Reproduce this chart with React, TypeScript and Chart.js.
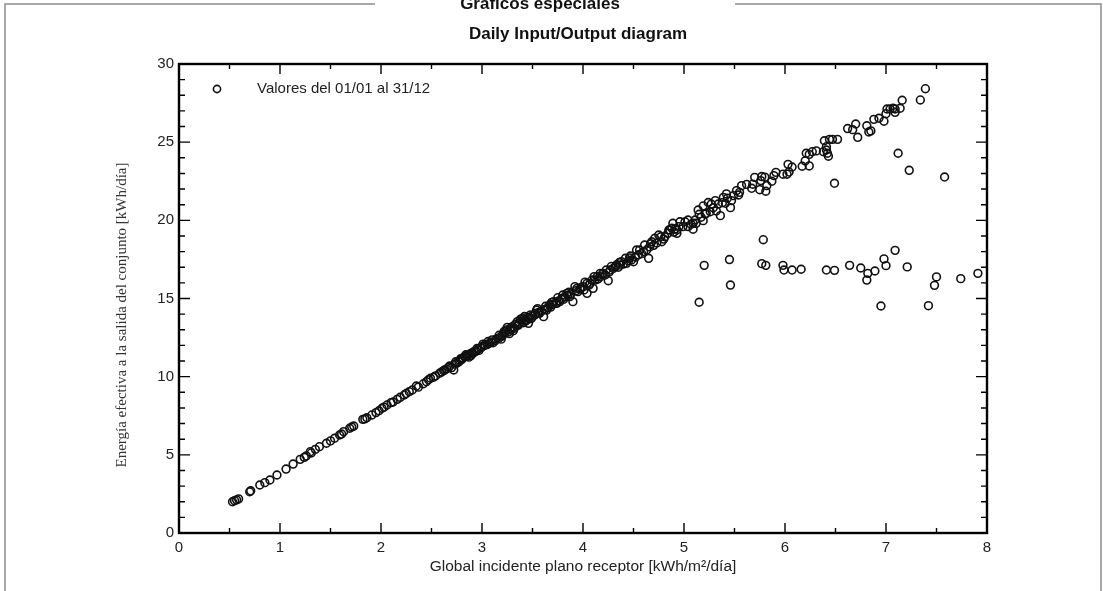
import React, { useEffect, useRef } from "react";
import { Chart, registerables } from "chart.js";

Chart.register(...registerables);

// ---------- text ----------
const pageTitle = "Gráficos especiales";
const chartTitle = "Daily Input/Output diagram";
const xAxisTitle = "Global incidente plano receptor [kWh/m²/día]";
const yAxisTitle = "Energía efectiva a la salida del conjunto [kWh/día]";
const legendLabel = "Valores del 01/01 al 31/12";

// ---------- axes ----------
const xRange = [0, 8];
const xMajorStep = 1;
const xMinorStep = 0.5;
const yRange = [0, 30];
const yMajorStep = 5;
const yMinorStep = 1;

// ---------- data: [global incident kWh/m²/day, effective energy kWh/day] ----------
const lowDays: [number, number][] = [
  [0.53, 2.0], [0.55, 2.07], [0.57, 2.12], [0.59, 2.18], [0.7, 2.64], [0.71, 2.7],
  [0.8, 3.07], [0.85, 3.22], [0.9, 3.39], [0.97, 3.71], [1.06, 4.09], [1.13, 4.41],
  [1.2, 4.71], [1.24, 4.84], [1.26, 4.93], [1.3, 5.2], [1.31, 5.12], [1.35, 5.35],
  [1.39, 5.52], [1.46, 5.74], [1.5, 5.89], [1.54, 6.06], [1.59, 6.27], [1.61, 6.33],
  [1.63, 6.48], [1.69, 6.7], [1.71, 6.78], [1.73, 6.84], [1.82, 7.27], [1.84, 7.3],
  [1.86, 7.37], [1.91, 7.55], [1.95, 7.7], [1.98, 7.82], [2.01, 7.98], [2.03, 8.05],
  [2.06, 8.19], [2.1, 8.34], [2.12, 8.38], [2.16, 8.55], [2.19, 8.68], [2.23, 8.83],
  [2.25, 8.92], [2.28, 9.04], [2.31, 9.15], [2.35, 9.4], [2.37, 9.33], [2.42, 9.55],
  [2.45, 9.68], [2.47, 9.8],
];

const midDays: [number, number][] = [
  [2.49, 9.9], [2.52, 9.96], [2.54, 10.05], [2.58, 10.22], [2.6, 10.3], [2.63, 10.43],
  [2.65, 10.5], [2.68, 10.68], [2.7, 10.58], [2.72, 10.43], [2.73, 10.8], [2.75, 10.86],
  [2.77, 10.95], [2.78, 11.02], [2.8, 11.11], [2.81, 11.2], [2.83, 11.28], [2.85, 11.3],
  [2.86, 11.38], [2.88, 11.45], [2.89, 11.35], [2.9, 11.52], [2.92, 11.6], [2.94, 11.62],
  [2.96, 11.75], [2.97, 11.68], [2.99, 11.85], [3.0, 11.92], [3.02, 11.98], [3.03, 12.03],
  [3.05, 12.05], [3.07, 12.13], [3.09, 12.2], [3.11, 12.17], [3.13, 12.3], [3.16, 12.45],
  [3.18, 12.52], [3.2, 12.6], [3.21, 12.73], [3.23, 12.8], [3.24, 12.99], [3.26, 12.85],
  [3.28, 13.09], [3.29, 13.0], [3.31, 12.94], [3.32, 13.1], [3.34, 13.24], [3.35, 13.52],
  [3.36, 13.3], [3.38, 13.67], [3.4, 13.73], [3.41, 13.45], [3.43, 13.55], [3.44, 13.62],
  [3.46, 13.41], [3.47, 13.7], [3.49, 13.73],
  [2.62, 10.38], [2.67, 10.6], [2.74, 10.95], [2.79, 11.15], [2.84, 11.4], [2.87, 11.25],
  [2.91, 11.48], [2.95, 11.8], [3.01, 12.08], [3.06, 12.25], [3.1, 12.35], [3.14, 12.4],
  [3.17, 12.65], [3.19, 12.4], [3.22, 12.9], [3.25, 13.15], [3.27, 12.75], [3.3, 13.2],
  [3.33, 13.35], [3.37, 13.4], [3.39, 13.55], [3.42, 13.85], [3.45, 13.8], [3.48, 13.95],
];

const highDays: [number, number][] = [
  [3.5, 13.9], [3.52, 13.94], [3.53, 14.05], [3.54, 14.26], [3.56, 14.1], [3.57, 14.05],
  [3.59, 14.2], [3.61, 13.84], [3.62, 14.3], [3.64, 14.26], [3.65, 14.4], [3.67, 14.58],
  [3.68, 14.45], [3.7, 14.62], [3.71, 14.8], [3.73, 14.7], [3.74, 14.69], [3.76, 14.85],
  [3.77, 14.8], [3.79, 15.0], [3.8, 15.22], [3.82, 15.1], [3.84, 15.33], [3.85, 15.2],
  [3.87, 15.12], [3.88, 15.3], [3.9, 14.8], [3.92, 15.76], [3.93, 15.5], [3.95, 15.44],
  [3.97, 15.6], [3.98, 15.7], [4.0, 15.76], [4.01, 15.55], [4.04, 15.33], [4.04, 15.97],
  [4.06, 15.85], [4.07, 15.97], [4.09, 16.18], [4.1, 15.65], [4.12, 16.18], [4.14, 16.39],
  [4.15, 16.25], [4.17, 16.39], [4.17, 16.61], [4.2, 16.61], [4.22, 16.5], [4.23, 16.82],
  [4.25, 16.14], [4.26, 16.7], [4.27, 16.82], [4.3, 16.93], [4.32, 17.04], [4.33, 17.14],
  [4.35, 17.0], [4.37, 17.14], [4.38, 17.36], [4.4, 17.2], [4.42, 17.57], [4.43, 17.25],
  [4.45, 17.4], [4.47, 17.72], [4.48, 17.46], [4.5, 17.35], [4.52, 17.65], [4.53, 18.1],
  [4.55, 17.8], [4.58, 17.87], [4.6, 18.0], [4.61, 18.42], [4.63, 18.1], [4.65, 17.57],
  [4.66, 18.3], [4.68, 18.63], [4.7, 18.4], [4.71, 18.85], [4.73, 18.55], [4.75, 19.06],
  [4.78, 18.63], [4.8, 18.8], [4.81, 18.95], [4.84, 19.17], [4.85, 19.38], [4.86, 19.38],
  [4.88, 19.5], [4.89, 19.81], [4.91, 19.45], [4.93, 19.17], [4.93, 19.38], [4.95, 19.6],
  [4.96, 19.91], [4.99, 19.6],
  [3.55, 14.35], [3.63, 14.5], [3.69, 14.75], [3.75, 15.05], [3.81, 14.95], [3.86, 15.4],
  [3.94, 15.65], [4.02, 16.05], [4.11, 16.4], [4.19, 16.55], [4.28, 17.05], [4.36, 17.3],
  [4.46, 17.6], [4.56, 18.1], [4.67, 18.5], [4.77, 18.95], [4.9, 19.25],
];

const summerDays: [number, number][] = [
  [5.01, 19.91], [5.04, 19.6], [5.04, 20.02], [5.07, 19.75], [5.09, 19.43], [5.09, 19.81],
  [5.11, 20.02], [5.12, 19.81], [5.14, 20.66], [5.15, 20.39], [5.17, 20.2], [5.19, 19.98],
  [5.19, 20.92], [5.21, 20.4], [5.22, 20.45], [5.24, 21.14], [5.26, 20.55], [5.27, 21.04],
  [5.29, 20.81], [5.31, 21.26], [5.32, 20.6], [5.34, 21.04], [5.36, 20.3], [5.38, 21.13],
  [5.39, 21.47], [5.41, 21.09], [5.42, 21.69], [5.43, 21.41], [5.46, 20.81], [5.47, 21.26],
  [5.49, 21.58], [5.52, 21.9], [5.54, 21.62], [5.55, 21.79], [5.57, 22.22], [5.62, 22.3],
  [5.67, 22.05], [5.68, 22.31], [5.7, 22.75], [5.75, 21.96], [5.76, 22.54], [5.77, 22.8],
  [5.8, 22.76], [5.81, 21.86], [5.82, 22.22], [5.87, 22.5], [5.89, 22.86], [5.91, 23.07],
  [5.98, 22.95], [6.02, 22.95], [6.03, 23.58], [6.04, 23.09], [6.07, 23.41], [6.17, 23.46],
  [6.2, 23.8], [6.21, 24.29], [6.24, 24.22], [6.24, 23.48], [6.27, 24.39], [6.31, 24.44],
  [6.38, 24.39], [6.39, 25.09], [6.41, 24.71], [6.41, 24.5], [6.42, 24.29], [6.43, 24.1],
  [6.44, 25.18], [6.47, 25.18], [6.52, 25.18], [6.62, 25.87], [6.67, 25.8], [6.7, 26.16],
  [6.72, 25.31], [6.81, 26.05], [6.83, 25.65], [6.85, 25.72], [6.88, 26.46], [6.93, 26.53],
  [6.98, 26.34], [7.0, 26.82], [7.01, 27.12], [7.04, 27.12], [7.07, 27.17], [7.09, 27.12],
  [7.09, 26.91], [7.14, 27.17], [7.16, 27.68], [7.34, 27.7], [7.39, 28.42],
];

const limitedDays: [number, number][] = [
  [5.15, 14.76], [5.2, 17.12], [5.45, 17.49], [5.46, 15.86], [5.785, 18.76], [5.77, 17.23],
  [5.81, 17.12], [5.98, 17.12], [5.99, 16.82], [6.07, 16.82], [6.16, 16.87], [6.41, 16.82],
  [6.49, 16.8], [6.64, 17.12], [6.75, 16.95], [6.82, 16.61], [6.81, 16.18], [6.89, 16.76],
  [6.95, 14.52], [6.98, 17.53], [7.0, 17.1], [7.09, 18.08], [7.21, 17.02], [7.42, 14.54],
  [7.48, 15.84], [7.5, 16.38], [7.74, 16.27], [7.91, 16.61], [7.12, 24.29], [7.23, 23.2],
  [7.58, 22.77], [6.49, 22.37],
];

const allDays = [...lowDays, ...midDays, ...highDays, ...summerDays, ...limitedDays];

const SANS = "'Liberation Sans', Arial, sans-serif";
const SERIF = "'Liberation Serif', 'Times New Roman', serif";

const decorPlugin = {
  id: "decor",
  afterDraw(chart: any) {
    const { ctx, chartArea, scales } = chart;
    const { left, right, top, bottom } = chartArea;
    const xs = scales.x;
    const ys = scales.y;
    ctx.save();

    // page frame
    ctx.strokeStyle = "#8c8c8c";
    ctx.lineWidth = 1.5;
    ctx.beginPath();
    ctx.moveTo(5, 591);
    ctx.lineTo(5, 4);
    ctx.lineTo(375, 4);
    ctx.moveTo(735, 4);
    ctx.lineTo(1101, 4);
    ctx.lineTo(1101, 591);
    ctx.stroke();

    // page title
    ctx.fillStyle = "#111";
    ctx.font = `bold 17px ${SANS}`;
    ctx.textAlign = "center";
    ctx.textBaseline = "alphabetic";
    ctx.fillText(pageTitle, 540, 9);

    // chart title
    ctx.font = `bold 17px ${SANS}`;
    ctx.textBaseline = "middle";
    ctx.fillText(chartTitle, (left + right) / 2 - 5, 34);

    // y axis title (serif, rotated)
    ctx.save();
    ctx.translate(122, 315);
    ctx.rotate(-Math.PI / 2);
    ctx.font = `15px ${SERIF}`;
    ctx.fillStyle = "#333";
    ctx.textAlign = "center";
    ctx.textBaseline = "middle";
    ctx.fillText(yAxisTitle, 0, 0);
    ctx.restore();

    // plot frame
    ctx.strokeStyle = "#000";
    ctx.lineWidth = 2.4;
    ctx.strokeRect(left, top, right - left, bottom - top);

    // inward ticks on four sides
    ctx.lineWidth = 1.4;
    ctx.beginPath();
    const nx = Math.round((xRange[1] - xRange[0]) / xMinorStep);
    for (let i = 1; i < nx; i++) {
      const v = xRange[0] + i * xMinorStep;
      const major = Math.abs(v / xMajorStep - Math.round(v / xMajorStep)) < 1e-6;
      const len = major ? 10 : 5;
      const px = xs.getPixelForValue(v);
      ctx.moveTo(px, bottom);
      ctx.lineTo(px, bottom - len);
      ctx.moveTo(px, top);
      ctx.lineTo(px, top + len);
    }
    const ny = Math.round((yRange[1] - yRange[0]) / yMinorStep);
    for (let i = 1; i < ny; i++) {
      const v = yRange[0] + i * yMinorStep;
      const major = Math.abs(v / yMajorStep - Math.round(v / yMajorStep)) < 1e-6;
      const len = major ? 11 : 6;
      const py = ys.getPixelForValue(v);
      ctx.moveTo(left, py);
      ctx.lineTo(left + len, py);
      ctx.moveTo(right, py);
      ctx.lineTo(right - len, py);
    }
    ctx.stroke();

    // legend inside plot
    const lx = left + 38;
    const ly = top + 25;
    ctx.lineWidth = 1.6;
    ctx.strokeStyle = "#111";
    ctx.beginPath();
    ctx.arc(lx, ly, 3.6, 0, Math.PI * 2);
    ctx.stroke();
    ctx.font = `15px ${SANS}`;
    ctx.textAlign = "left";
    ctx.textBaseline = "middle";
    ctx.fillStyle = "#222";
    ctx.fillText(legendLabel, lx + 40, ly);

    ctx.restore();
  },
};

export default function App() {
  const canvasRef = useRef<HTMLCanvasElement | null>(null);

  useEffect(() => {
    if (!canvasRef.current) return;
    const chart = new Chart(canvasRef.current, {
      type: "scatter",
      data: {
        datasets: [
          {
            label: legendLabel,
            data: allDays.map(([x, y]) => ({ x, y })),
            pointStyle: "circle",
            pointRadius: 3.9,
            pointBorderWidth: 1.6,
            borderColor: "#111",
            backgroundColor: "rgba(0,0,0,0)",
            pointHoverRadius: 3.9,
          },
        ],
      },
      options: {
        animation: false,
        responsive: false,
        devicePixelRatio: 1,
        events: [],
        layout: { padding: { left: 0, right: 116, top: 64, bottom: 0 } },
        plugins: {
          legend: { display: false },
          tooltip: { enabled: false },
          title: { display: false },
        },
        scales: {
          x: {
            type: "linear",
            min: xRange[0],
            max: xRange[1],
            grid: { display: false, drawTicks: false },
            border: { display: false },
            ticks: {
              stepSize: xMajorStep,
              color: "#222",
              font: { family: SANS, size: 15 },
              padding: 6,
              maxRotation: 0,
            },
            title: {
              display: true,
              text: xAxisTitle,
              color: "#222",
              font: { family: SANS, size: 15.5 },
              padding: { top: 0, bottom: 15 },
            },
            afterFit: (s: any) => {
              s.height = 58;
            },
          },
          y: {
            type: "linear",
            min: yRange[0],
            max: yRange[1],
            grid: { display: false, drawTicks: false },
            border: { display: false },
            ticks: {
              stepSize: yMajorStep,
              color: "#222",
              font: { family: SANS, size: 15 },
              padding: 5,
            },
            afterFit: (s: any) => {
              s.width = 179;
            },
          },
        },
      },
      plugins: [decorPlugin],
    });
    return () => chart.destroy();
  }, []);

  return (
    <div style={{ position: "fixed", left: 0, top: 0, width: 1103, height: 591, background: "#fff" }}>
      <canvas ref={canvasRef} width={1103} height={591} style={{ display: "block" }} />
    </div>
  );
}
